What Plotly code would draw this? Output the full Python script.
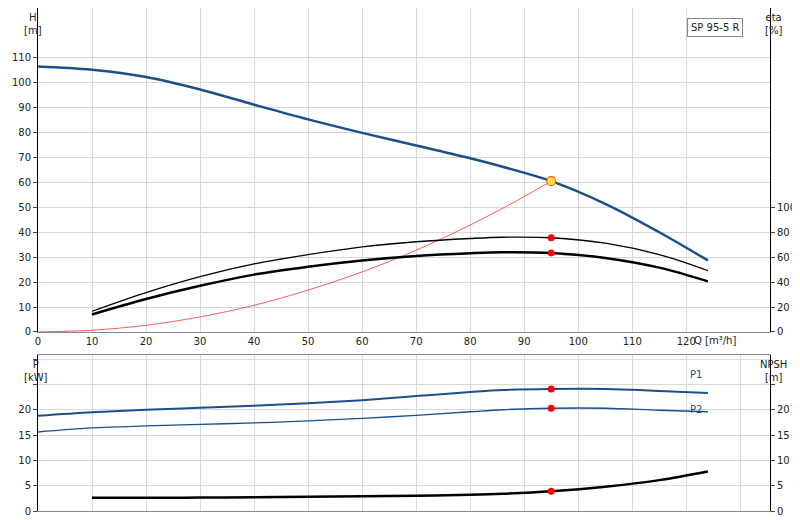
import plotly.graph_objects as go

q = [0, 10, 20, 30, 40, 50, 60, 70, 80, 86, 95, 105, 115, 124]
head = [106.5, 105.2, 102.3, 97.3, 91.2, 85.3, 79.9, 74.8, 69.7, 66.3, 60.5, 51.4, 40.0, 28.7]
q_eta = [10, 20, 30, 40, 50, 60, 70, 80, 86, 95, 105, 115, 124]
eta_pump = [14.0, 26.4, 37.0, 46.0, 52.4, 57.4, 61.0, 63.2, 64.0, 63.4, 59.4, 51.6, 40.6]
eta_total = [16.6, 31.6, 44.4, 54.6, 62.0, 68.2, 72.4, 75.0, 76.0, 75.6, 71.2, 62.0, 49.2]
q_sys = [0, 10, 20, 30, 40, 50, 60, 70, 80, 90, 95]
h_sys = [0, 0.67, 2.68, 6.03, 10.7, 16.8, 24.1, 32.8, 42.9, 54.3, 60.5]
p1 = [18.8, 19.5, 20.0, 20.4, 20.8, 21.3, 21.9, 22.7, 23.5, 23.9, 24.1, 24.1, 23.7, 23.3]
p2 = [15.6, 16.4, 16.8, 17.1, 17.4, 17.8, 18.3, 18.9, 19.6, 20.0, 20.3, 20.3, 19.9, 19.6]
npsh = [2.6, 2.6, 2.65, 2.7, 2.8, 2.9, 3.0, 3.2, 3.4, 3.9, 4.8, 6.1, 7.8]
duty_q = 95

blue = "#1a4f8b"
fig = go.Figure()


def line(x, y, color, width, xa, ya):
    fig.add_trace(go.Scatter(x=x, y=y, mode="lines", line=dict(color=color, width=width, shape="spline"),
                             xaxis=xa, yaxis=ya, hoverinfo="x+y"))


def dots(x, y, xa, ya, **marker):
    fig.add_trace(go.Scatter(x=x, y=y, mode="markers", marker=marker, xaxis=xa, yaxis=ya))


line(q, head, blue, 2.5, "x", "y")
line(q_eta, eta_total, "black", 1.3, "x", "y2")
line(q_eta, eta_pump, "black", 2.5, "x", "y2")
line(q_sys, h_sys, "#ff3030", 0.8, "x", "y")
dots([duty_q] * 2, [eta_total[9], eta_pump[9]], "x", "y2", color="red", size=7)
dots([duty_q], [head[10]], "x", "y", color="#ffe040", size=9, line=dict(color="#ff6000", width=1.2))

line(q, p1, blue, 2, "x2", "y3")
line(q, p2, blue, 1.3, "x2", "y3")
line(q_eta, npsh, "black", 2.5, "x2", "y4")
dots([duty_q] * 2, [p1[10], p2[10]], "x2", "y3", color="red", size=7)
dots([duty_q], [npsh[9]], "x2", "y4", color="red", size=7)

grid = "#d8d8d8"
xcommon = dict(range=[0, 135.5], showgrid=True, gridcolor=grid, zeroline=False, automargin=False,
               showline=True, linecolor="#888", mirror=True, tickfont=dict(size=10, color="#222"))
ycommon = dict(showline=True, linecolor="black", zeroline=False, ticks="outside", ticklen=4,
               automargin=False, tickfont=dict(size=10))
fig.update_layout(
    width=800, height=520, showlegend=False, plot_bgcolor="white", paper_bgcolor="white",
    margin=dict(l=30, r=38, t=0, b=17),
    font=dict(family="DejaVu Sans", size=10, color="#222"),
    xaxis=dict(xcommon, domain=[0, 1], anchor="y", tickvals=list(range(0, 130, 10))),
    yaxis=dict(ycommon, domain=[0.356, 1], range=[0, 130], tickvals=list(range(0, 120, 10)), gridcolor=grid),
    yaxis2=dict(ycommon, overlaying="y", side="right", range=[0, 260], tickvals=list(range(0, 120, 20)),
                showgrid=False),
    xaxis2=dict(xcommon, domain=[0, 1], anchor="y3", tickvals=list(range(0, 140, 10)), showticklabels=False),
    yaxis3=dict(ycommon, domain=[0, 0.31], range=[0, 30.8], tickvals=[0, 5, 10, 15, 20, 25, 30],
                ticktext=["0", "5", "10", "15", "20", "", ""], gridcolor=grid),
    yaxis4=dict(ycommon, overlaying="y3", side="right", range=[0, 30.8], tickvals=[0, 5, 10, 15, 20, 25],
                ticktext=["0", "5", "10", "15", "20", ""], showgrid=False),
)


def px_ann(x, y, text, color="#222", **kw):
    # x, y in figure pixels -> paper coords of the plot area
    fig.add_annotation(x=(x - 30) / 732, y=(503 - y) / 503, xref="paper", yref="paper", text=text,
                       showarrow=False, font=dict(size=10, color=color), **kw)


px_ann(14, 2, "H<br>[m]", yanchor="top")
px_ann(776, 2, "eta<br>[%]", yanchor="top")
px_ann(730, 325, "Q [m³/h]", yanchor="top")
px_ann(14, 349, "P<br>[kW]", yanchor="top")
px_ann(781, 349, "NPSH<br>[m]", yanchor="top")
px_ann(696, 374, "P1", blue)
px_ann(696, 409, "P2", blue)
px_ann(735, 10, "SP 95-5 R", bordercolor="#888", borderwidth=1, bgcolor="white", borderpad=3)
fig.write_html("out.html")
